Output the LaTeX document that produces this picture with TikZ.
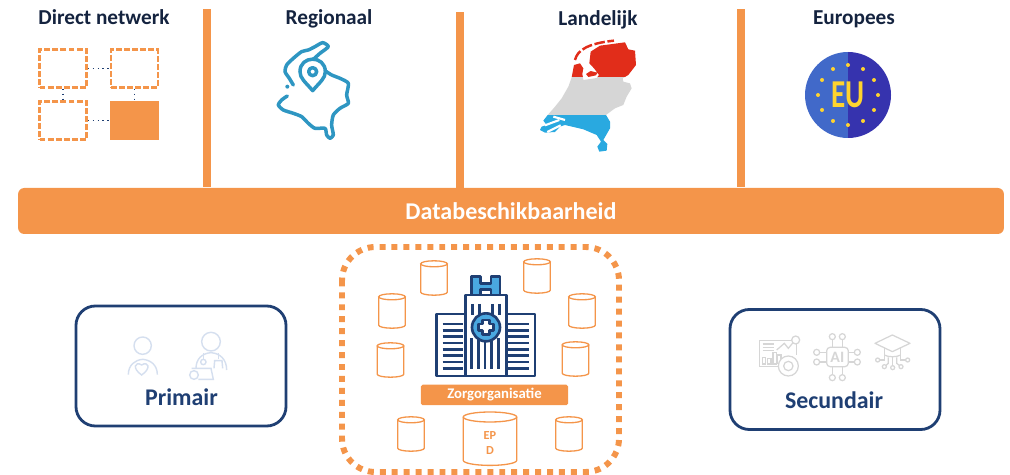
\documentclass[tikz,border=0pt]{standalone}
\usepackage{fontspec}
\setmainfont{Carlito}
\usetikzlibrary{shapes.geometric}
\definecolor{barorange}{HTML}{F4954A}
\definecolor{labelnavy}{HTML}{14233F}
\definecolor{boxnavy}{HTML}{1F3F73}
\definecolor{pinblue}{HTML}{2E96C2}
\definecolor{towerblue}{HTML}{4AA8E0}
\definecolor{softblue}{HTML}{D5DFEF}
\definecolor{softgrey}{HTML}{D6D6D6}
\definecolor{nlred}{HTML}{E12D1A}
\definecolor{nlblue}{HTML}{29A9E0}
\definecolor{eublue}{HTML}{4169C9}
\definecolor{eudark}{HTML}{3633AE}
\definecolor{euyellow}{HTML}{FFD42E}
\def\dbcan(#1,#2)(#3:#4:#5){\draw[dbline] (#1, #2-#4) ellipse ({#3} and {#5}); \draw[dbline] ({#1-#3}, #2-#4) -- ({#1-#3}, #2+#4) arc (180:0:{#3} and {#5}) -- ({#1+#3}, #2-#4);}
\tikzset{
	zoomin/.style={x=0.006667cm, y=-0.006667cm},
	heading/.style={font=\fontsize{12.1}{14}\selectfont\bfseries, text=labelnavy, anchor=base},
	netbox/.style={draw=barorange, line width=1.35pt, dash pattern=on 3.4pt off 1.2pt, minimum width=0.94cm, minimum height=0.76cm, inner sep=0pt},
	netlink/.style={draw=boxnavy, line width=0.8pt, dotted},
	dbline/.style={draw=barorange, line width=0.75pt},
	roleframe/.style={draw=boxnavy, line width=1.6pt, rounded corners=11pt, fill=white},
	rolename/.style={font=\fontsize{13.6}{15}\selectfont\bfseries, text=boxnavy, anchor=base},
	softline/.style={draw=softblue, line width=0.8pt},
	greyline/.style={draw=softgrey, line width=0.7pt},
	plan/.style={draw=boxnavy, line width=1.5pt, line join=round},
	mapline/.style={draw=pinblue, line width=2pt, line cap=round, line join=round}
}
\begin{document}
\begin{tikzpicture}[x=0.02cm, y=-0.02cm]
	%%%%% START %%%%%
	\useasboundingbox (0, 0) rectangle (1010, 475);

	\node[heading] (direct) at (104, 25) {Direct netwerk};
	\node[heading] (regio) at (329, 25) {Regionaal};
	\node[heading] (land) at (598, 25.5) {Landelijk};
	\node[heading] (euro) at (854, 25) {Europees};

	\fill[barorange] (203, 9) rectangle (211, 187);
	\fill[barorange] (456, 12) rectangle (464, 189);
	\fill[barorange] (737, 9) rectangle (745, 187);
	\node[fill=barorange, rounded corners=3.5pt, minimum width=19.72cm, minimum height=0.92cm, text=white, font=\fontsize{13.7}{15}\selectfont\bfseries] (avail) at (511, 211) {Databeschikbaarheid};

	% direct netwerk
	\node[netbox] (boxa) at (63, 68.5) {};
	\node[netbox] (boxb) at (134.5, 68.5) {};
	\node[netbox] (boxc) at (63, 120.5) {};
	\node[netbox, fill=barorange, draw=none, minimum width=0.98cm, minimum height=0.78cm] (boxd) at (134.5, 120.5) {};
	\draw[netlink] (boxa) -- (boxb);
	\draw[netlink] (boxa) -- (boxc);
	\draw[netlink] (boxb) -- (boxd);
	\draw[netlink] (boxc) -- (boxd);

	% regio kaart
	\begin{scope}[zoomin]
		\draw[mapline] plot[smooth, tension=0.4] coordinates {(940,178) (960,160) (985,140) (968,128) (945,140) (925,150) (905,155) (880,175) (860,195) (855,215) (868,235) (880,255)};
		\fill[pinblue] (862,260) circle (6);
		\draw[mapline] plot[smooth, tension=0.4] coordinates {(862,288) (845,300) (835,315) (850,330) (880,340) (905,350) (925,370) (945,385) (975,385) (980,405) (990,415) (1000,405) (995,375) (1000,345) (1020,325) (1045,310) (1040,285) (1045,250) (1020,235) (995,225) (975,212)};
		\draw[mapline, fill=white] (938,272) .. controls (915,245) and (900,235) .. (900,215) .. controls (900,165) and (976,165) .. (976,215) .. controls (976,235) and (961,245) .. (938,272) -- cycle;
		\draw[mapline] (938,215) circle (12);
	\end{scope}

	% landelijk kaart
	\begin{scope}[shift={(500, 0)}, zoomin]
		\begin{scope}
			\clip (222,195) -- (240,190) -- (250,205) -- (247,222) -- (250,240) -- (290,234) -- (297,225) -- (282,205) -- (268,190) -- (272,155) -- (300,137) -- (375,127) -- (385,148) -- (405,152) -- (408,195) -- (385,225) -- (368,235) -- (370,245) -- (390,250) -- (395,265) -- (380,290) -- (370,315) -- (345,325) -- (318,345) -- (330,365) -- (330,385) -- (310,420) -- (322,432) -- (320,452) -- (298,455) -- (292,440) -- (303,425) -- (290,405) -- (250,388) -- (195,375) -- (180,380) -- (165,396) -- (135,398) -- (120,390) -- (125,380) -- (140,375) -- (130,362) -- (143,345) -- (165,320) -- (185,295) -- (205,260) -- (215,232) -- cycle (258,222) -- (272,213) -- (292,218) -- (288,226) -- (265,231) -- cycle;
			\fill[nlred] (100, 100) rectangle (420, 232);
			\fill[softgrey] (100, 232) rectangle (420, 345);
			\fill[nlblue] (100, 345) rectangle (420, 470);
		\end{scope}
		\draw[white, line width=1.2pt] (160,350) -- (195,360);
		\draw[white, line width=1.2pt] (135,376) -- (178,360);
		\draw[white, line width=1.2pt] (142,396) -- (182,376);
		\draw[nlred, line width=1.4pt, dash pattern=on 6pt off 1.5pt] (225,180) .. controls (232,150) and (265,130) .. (342,122);
	\end{scope}

	% europese vlag
	\fill[eublue] (848, 138) arc (90:270:43) -- cycle;
	\fill[eudark] (848, 138) arc (90:-90:43) -- cycle;
	\foreach \a in {0, 30, ..., 330} {
		\fill[euyellow] ({848+30*cos(\a)}, {95+30*sin(\a)}) circle (2);
	}
	\node[text=euyellow, font=\fontsize{18}{20}\selectfont\bfseries, xscale=0.92, yscale=1.25, transform shape] (eu) at (848, 95) {EU};

	% zorgorganisatie
	\draw[barorange, line width=3.4pt, dash pattern=on 3.4pt off 3.4pt, rounded corners=19pt] (342, 247) rectangle (619, 472);
	\dbcan(434,278)(13.3:14.2:3);
	\dbcan(537,276)(13.3:14.2:3);
	\dbcan(392,311)(13.3:14.2:3);
	\dbcan(582,311)(13.3:14.2:3);
	\dbcan(390.5,360)(13.3:14.2:3);
	\dbcan(575.5,359)(13.3:14.2:3);
	\dbcan(411,434)(13.3:14.2:3);
	\dbcan(569,434)(13.3:14.2:3);
	\dbcan(490,438.7)(26.7:21.7:5);
	\node[text=barorange, align=center, font=\fontsize{7}{9}\selectfont\bfseries] (epd) at (490, 443) {EP\\D};
	\node[fill=barorange, rounded corners=1pt, minimum width=2.95cm, minimum height=0.41cm, inner sep=0pt, text=white, font=\fontsize{8.4}{9}\selectfont\bfseries] (zorg) at (494.5, 395) {Zorgorganisatie};

	\begin{scope}[shift={(330, 240)}, zoomin]
		\draw[plan, fill=towerblue] (425,165) -- (425,110) -- (452,110) -- (452,130) -- (483,130) -- (483,110) -- (510,110) -- (510,165) -- (483,165) -- (483,148) -- (452,148) -- (452,165) -- cycle;
		\draw[plan, fill=white] (320,222) rectangle (407,408);
		\draw[plan, fill=white] (530,222) rectangle (615,408);
		\draw[plan, fill=white] (407,165) rectangle (530,408);
		\foreach \y in {252, 271, ..., 385} {
			\draw[plan] (338, \y) -- (398, \y);
			\draw[plan] (532, \y) -- (597, \y);
		}
		\foreach \x in {428, 448, 488, 508} {
			\draw[plan] (\x, 192) -- (\x, 225);
		}
		\foreach \x in {425, 445, 465, 485, 505} {
			\draw[plan] (\x, 295) -- (\x, 388);
		}
		\draw[plan, fill=towerblue] (468, 262) circle (42);
		\draw[plan, fill=white] (458,240) -- (478,240) -- (478,252) -- (490,252) -- (490,272) -- (478,272) -- (478,284) -- (458,284) -- (458,272) -- (446,272) -- (446,252) -- (458,252) -- cycle;
	\end{scope}

	% primair
	\draw[roleframe] (76, 306) rectangle (286, 426);
	\node[rolename] (prim) at (181.5, 406) {Primair};
	\begin{scope}[shift={(70, 300)}, zoomin]
		\draw[softline] (218, 137) circle (26);
		\draw[softline] (175,224) .. controls (175,195) and (195,180) .. (218,178) .. controls (242,180) and (262,195) .. (262,224);
		\draw[softline] (215,225) .. controls (185,205) and (195,182) .. (215,195) .. controls (235,182) and (245,205) .. (215,225) -- cycle;
		\draw[softline] (423, 125) circle (28);
		\draw[softline] (378,205) .. controls (378,178) and (395,160) .. (423,158) .. controls (450,160) and (470,178) .. (470,210);
		\draw[softline] (400,160) -- (400,178);
		\draw[softline] (400, 186) circle (8);
		\draw[softline] (445,160) -- (445,178);
		\draw[softline] (432,205) -- (434,182) -- (456,182) -- (458,205);
		\draw[softline] (365,205) -- (423,205) -- (430,238) -- (385,238);
		\draw[softline] (372, 225) circle (13);
	\end{scope}

	% secundair
	\draw[roleframe] (730, 309.5) rectangle (940, 429.5);
	\node[rolename] (secu) at (834, 409) {Secundair};
	\begin{scope}[shift={(725, 300)}, zoomin]
		\draw[greyline] (200,122) -- (103,122) -- (103,200) -- (165,200);
		\draw[greyline] (215,130) -- (215,165);
		\foreach \y in {132, 142, 152} {
			\draw[greyline] (113, \y) -- (146, \y);
		}
		\draw[greyline] (112,172) rectangle (122,192);
		\draw[greyline] (128,176) rectangle (138,192);
		\draw[greyline] (144,158) rectangle (154,192);
		\draw[greyline] (158,165) rectangle (168,190);
		\draw[greyline] (155,150) -- (178,130) -- (190,145) -- (204,128);
		\draw[greyline] (212, 120) circle (12);
		\draw[greyline, fill=white] (190, 198) circle (30);
		\draw[greyline] (190, 198) circle (14);
		\draw[greyline, rounded corners=2pt] (305,142) rectangle (370,200);
		\node[text=softgrey, font=\fontsize{9}{10}\selectfont\bfseries] (ai) at (337, 171) {AI};
		\foreach \x in {322, 352} {
			\draw[greyline] (\x, 120) -- (\x, 142);
			\draw[greyline] (\x, 110) circle (9);
			\draw[greyline] (\x, 200) -- (\x, 224);
			\draw[greyline] (\x, 233) circle (9);
		}
		\foreach \y in {157, 186} {
			\draw[greyline] (284, \y) -- (305, \y);
			\draw[greyline] (275, \y) circle (9);
			\draw[greyline] (370, \y) -- (388, \y);
			\draw[greyline] (397, \y) circle (9);
		}
		\draw[greyline, line join=round] (450,130) -- (502,105) -- (555,130) -- (502,155) -- cycle;
		\draw[greyline] (478,143) -- (478,180) -- (463,180);
		\draw[greyline] (527,143) -- (527,180) -- (542,180);
		\draw[greyline] (478,165) .. controls (490,172) and (515,172) .. (527,165);
		\draw[greyline] (503,170) -- (503,197);
		\draw[greyline] (490,172) -- (490,190) -- (482,197);
		\draw[greyline] (515,172) -- (515,190) -- (524,197);
		\draw[greyline] (458, 180) circle (6);
		\draw[greyline] (548, 180) circle (6);
		\draw[greyline] (503, 203) circle (6);
		\draw[greyline] (478, 200) circle (6);
		\draw[greyline] (528, 200) circle (6);
	\end{scope}
	%%%%% END %%%%%
\end{tikzpicture}
\end{document}
